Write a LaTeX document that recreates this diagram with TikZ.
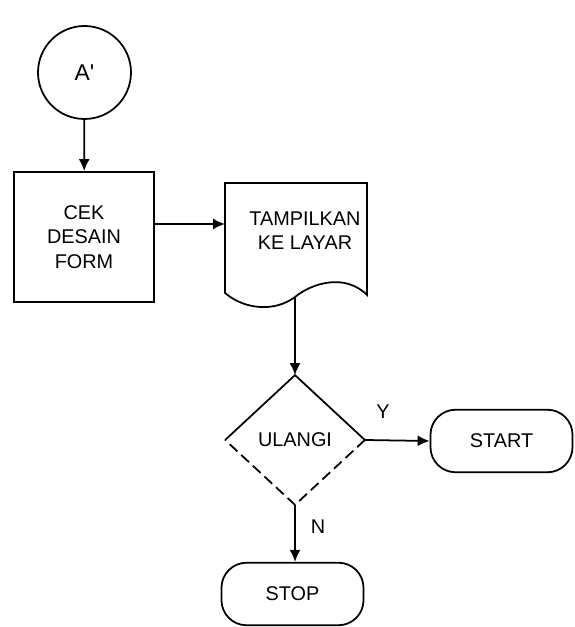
\documentclass[tikz,border=0pt]{standalone}
\usepackage{fontspec}
\setmainfont{Liberation Sans}
\usetikzlibrary {arrows.meta, shapes.geometric}
\tikzset{
    >={Latex[length=2.4mm, width=2.2mm]},
    every node/.style={font=\fontsize{11.3}{13.8}\selectfont},
    every path/.style={line width=1pt},
    terminal/.style={draw, rectangle, rounded corners=0.5cm, minimum width=2.84cm, minimum height=1.25cm}
}
\begin{document}
\begin{tikzpicture}
    \useasboundingbox (0, 0) rectangle (11.48, 12.54);
    % connector
    \node[draw, circle, minimum size=1.86cm, inner sep=0pt, font=\fontsize{13}{15}\selectfont] (A) at (1.69, 11.09) {A\textquotesingle};
    % process
    \node[draw, rectangle, minimum width=2.8cm, minimum height=2.6cm, align=center] (cek) at (1.68, 7.80) {CEK\\DESAIN\\FORM};
    % document with wavy bottom
    \draw (4.50, 8.88) -- (7.34, 8.88) -- (7.34, 6.64)
        .. controls (6.90, 7.08) and (6.24, 6.88) .. (5.90, 6.60)
        .. controls (5.50, 6.30) and (4.90, 6.34) .. (4.50, 6.68) -- cycle;
    \node[align=center] (tampil) at (6.10, 7.92) {TAMPILKAN\\KE LAYAR};
    \coordinate (docin) at (4.50, 8.06);
    \coordinate (docout) at (5.90, 6.60);
    % decision, lower half broken
    \node[diamond, minimum width=2.76cm, minimum height=2.56cm, inner sep=0pt] (ulangi) at (5.90, 3.74) {ULANGI};
    \draw (ulangi.west) -- (ulangi.north) -- (ulangi.east);
    \draw[dashed, dash pattern=on 6pt off 3pt] (ulangi.east) -- (ulangi.south) -- (ulangi.west);
    % terminals
    \node[terminal] (start) at (10.03, 3.72) {START};
    \node[terminal] (stop) at (5.85, 0.66) {STOP};
    % arrows
    \draw[->] (A) -- (cek);
    \draw[->] (cek.east |- docin) -- (docin);
    \draw[->] (docout) -- (ulangi.north);
    \draw[->] (ulangi.east) -- (start.west);
    \draw[->] (ulangi.south) -- (ulangi.south |- stop.north);
    \node (Y) at (7.66, 4.30) {Y};
    \node (N) at (6.36, 2.00) {N};
\end{tikzpicture}
\end{document}
